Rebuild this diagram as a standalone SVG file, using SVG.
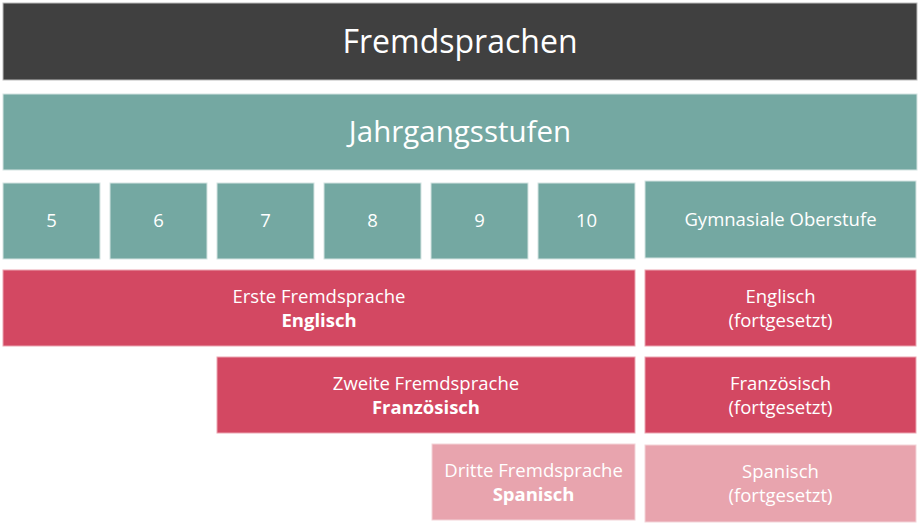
<svg xmlns="http://www.w3.org/2000/svg" width="920" height="524" viewBox="0 0 920 524">
<style>
text{font-family:"Open Sans","Liberation Sans",sans-serif;fill:#ffffff;text-anchor:middle}
.t{font-size:18.5px}
.b{font-weight:bold}
.teal{fill:#74A8A2;stroke:#D4E4E2;stroke-width:1}
.red{fill:#D34862;stroke:#EBA5B1;stroke-width:1}
.pink{fill:#E8A4AE;stroke:#F3D3D8;stroke-width:1}
</style>
<rect width="920" height="524" fill="#ffffff"/>
<g id="title"><rect x="3" y="3" width="914" height="77" fill="#404040" stroke="#BBBBBB" stroke-width="1"/><text x="460" y="53" font-size="32">Fremdsprachen</text></g>
<g id="jahrgangsstufen"><rect class="teal" x="3" y="94" width="914" height="76"/><text x="460" y="142" font-size="29.5">Jahrgangsstufen</text></g>
<g id="g5"><rect class="teal" x="3" y="183" width="97" height="76"/><text class="t" x="51.5" y="227">5</text></g>
<g id="g6"><rect class="teal" x="110" y="183" width="97" height="76"/><text class="t" x="158.5" y="227">6</text></g>
<g id="g7"><rect class="teal" x="217" y="183" width="97" height="76"/><text class="t" x="265.5" y="227">7</text></g>
<g id="g8"><rect class="teal" x="324" y="183" width="97" height="76"/><text class="t" x="372.5" y="227">8</text></g>
<g id="g9"><rect class="teal" x="431" y="183" width="97" height="76"/><text class="t" x="479.5" y="227">9</text></g>
<g id="g10"><rect class="teal" x="538" y="183" width="97" height="76"/><text class="t" x="586.5" y="227">10</text></g>
<g id="oberstufe"><rect class="teal" x="645" y="181" width="271" height="77"/><text class="t" x="780.5" y="226">Gymnasiale Oberstufe</text></g>
<g id="erste"><rect class="red" x="3" y="270" width="632" height="76"/><text class="t" x="319" y="303">Erste Fremdsprache</text><text class="t b" x="319" y="327">Englisch</text></g>
<g id="englisch-f"><rect class="red" x="645" y="270" width="271" height="76"/><text class="t" x="780.5" y="303">Englisch</text><text class="t" x="780.5" y="327">(fortgesetzt)</text></g>
<g id="zweite"><rect class="red" x="217" y="357" width="418" height="76"/><text class="t" x="426" y="390">Zweite Fremdsprache</text><text class="t b" x="426" y="414">Französisch</text></g>
<g id="franz-f"><rect class="red" x="645" y="357" width="271" height="76"/><text class="t" x="780.5" y="390">Französisch</text><text class="t" x="780.5" y="414">(fortgesetzt)</text></g>
<g id="dritte"><rect class="pink" x="432" y="444" width="203" height="76"/><text class="t" x="533.5" y="477">Dritte Fremdsprache</text><text class="t b" x="533.5" y="501">Spanisch</text></g>
<g id="span-f"><rect class="pink" x="645" y="445" width="271" height="77"/><text class="t" x="780.5" y="478">Spanisch</text><text class="t" x="780.5" y="502">(fortgesetzt)</text></g>
<g id="connectors"></g>
</svg>
